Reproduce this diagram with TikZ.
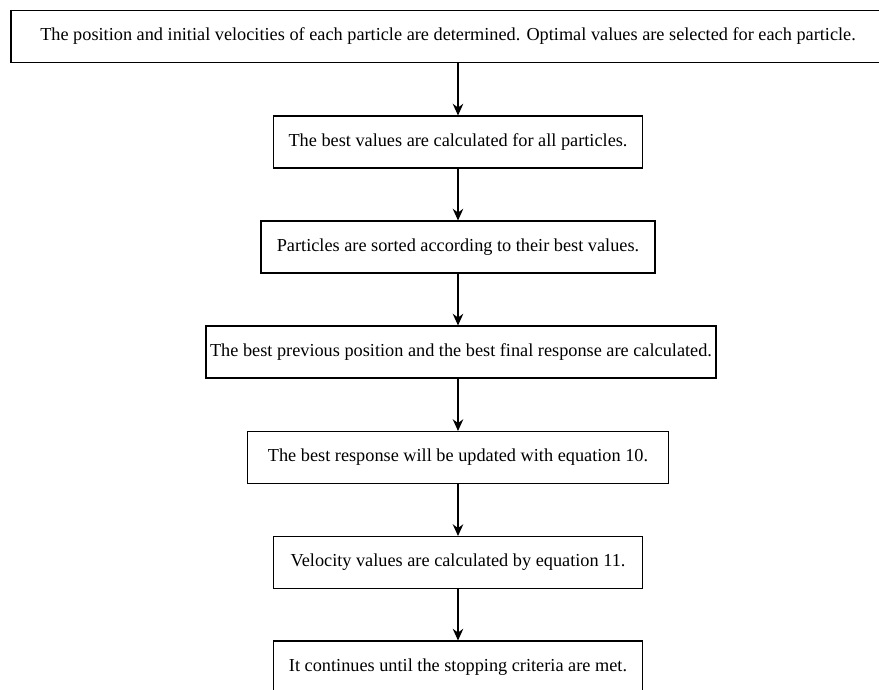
\documentclass[tikz,border=0pt]{standalone}
\usepackage{fontspec}
\setmainfont{Liberation Serif}
\usetikzlibrary{arrows.meta}
\tikzset{
  stage/.style={draw, line width=0.9pt, minimum height=1.56cm, inner sep=0pt,
    font=\fontsize{15.6}{18}\selectfont},
  flow/.style={-{Stealth[length=10pt,width=9pt]}, line width=0.9pt}
}
\begin{document}
\begin{tikzpicture}[x=0.03cm,y=-0.03cm]
\useasboundingbox (0,0) rectangle (879,689);
\node[stage,minimum width=26.22cm] (s1) at (448,36.25) {The position and initial velocities of each particle are determined. Optimal values are selected for each particle.};
\node[stage,minimum width=11.07cm] (s2) at (458,142) {The best values are calculated for all particles.};
\node[stage,minimum width=11.82cm] (s3) at (458,247) {Particles are sorted according to their best values.};
\node[stage,minimum width=15.3cm] (s4) at (461,352) {The best previous position and the best final response are calculated.};
\node[stage,minimum width=12.63cm] (s5) at (458,457.5) {The best response will be updated with equation 10.};
\node[stage,minimum width=11.07cm] (s6) at (458,562.5) {Velocity values are calculated by equation 11.};
\node[stage,minimum width=11.07cm] (s7) at (458,667) {It continues until the stopping criteria are met.};
\foreach \a/\b in {s1/s2,s2/s3,s3/s4,s4/s5,s5/s6,s6/s7} \draw[flow] (\a.south -| s2) -- (\b.north -| s2);
\end{tikzpicture}
\end{document}
